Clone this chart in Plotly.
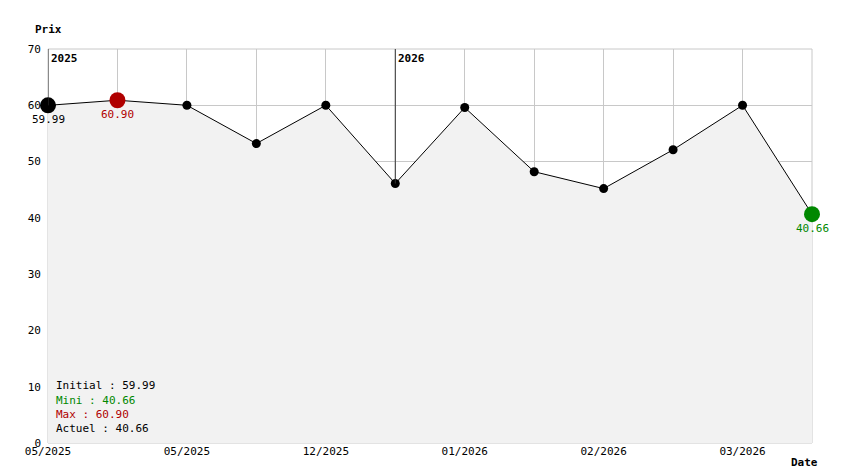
import plotly.graph_objects as go

prices = [59.99, 60.90, 60.0, 53.2, 60.0, 46.1, 59.6, 48.2, 45.2, 52.1, 60.0, 40.66]
tick_idx = [0, 2, 4, 6, 8, 10]
tick_labels = ["05/2025", "05/2025", "12/2025", "01/2026", "02/2026", "03/2026"]
years = [(0, "2025"), (5, "2026")]
x = list(range(len(prices)))
F = "DejaVu Sans Mono"

fig = go.Figure()
fig.add_trace(go.Scatter(x=x, y=prices, mode="lines+markers", fill="tozeroy",
    fillcolor="#f2f2f2", line=dict(color="#000", width=1), cliponaxis=False,
    marker=dict(size=9, color="#000"), hoverinfo="skip"))
imax = prices.index(max(prices)); imin = prices.index(min(prices))
for xi, col in [(0, "#000"), (imax, "#b00000"), (imin, "#008800")]:
    fig.add_trace(go.Scatter(x=[xi], y=[prices[xi]], mode="markers", cliponaxis=False,
                             marker=dict(size=16, color=col)))

for xi, lab in years:
    fig.add_shape(type="line", x0=xi, x1=xi, y0=70, y1=prices[xi], line=dict(color="#333", width=1))
    fig.add_annotation(x=xi, y=70, text="<b>" + lab + "</b>", showarrow=False, xanchor="left",
                       yanchor="top", xshift=1, yshift=-1, font=dict(family=F, size=11, color="#000"))
for xi, col in [(0, "#000"), (imax, "#b00000"), (imin, "#008800")]:
    fig.add_annotation(x=xi, y=prices[xi], text=f"{prices[xi]:.2f}", showarrow=False, yshift=-14,
                       font=dict(family=F, size=11, color=col))
leg = [("Initial : %.2f" % prices[0], "#000"), ("Mini : %.2f" % min(prices), "#008800"),
       ("Max : %.2f" % max(prices), "#b00000"), ("Actuel : %.2f" % prices[-1], "#000")]
for i, (t, c) in enumerate(leg):
    fig.add_annotation(xref="paper", yref="paper", x=0.008, y=0.145 - i * 0.036, text=t, showarrow=False,
                       xanchor="left", yanchor="middle", font=dict(family=F, size=11, color=c))
fig.add_annotation(xref="paper", yref="paper", x=0, y=1, yshift=28, text="<b>Prix</b>", showarrow=False,
                   xanchor="center", font=dict(family=F, size=11, color="#000"))
fig.add_annotation(xref="paper", yref="paper", x=1, y=0, yshift=-28, xshift=8, text="<b>Date</b>", showarrow=False,
                   xanchor="right", font=dict(family=F, size=11, color="#000"))

fig.update_layout(width=844, height=474, margin=dict(l=40, r=40, t=41, b=39, autoexpand=False),
    plot_bgcolor="white", paper_bgcolor="white", showlegend=False,
    font=dict(family=F, size=11, color="#000"))
fig.update_xaxes(range=[0, 11], tickvals=tick_idx, ticktext=tick_labels, showgrid=True,
    gridcolor="#c8c8c8", zeroline=False, showline=False, ticks="", automargin=False,
    minor=dict(dtick=1, tick0=0, showgrid=True, gridcolor="#c8c8c8"))
fig.update_yaxes(range=[0, 70], dtick=10, gridcolor="#c8c8c8", zeroline=False, ticks="",
                 automargin=False, ticklabelstandoff=6)
fig.add_shape(type="rect", xref="paper", yref="paper", x0=0, x1=1, y0=0, y1=1,
              line=dict(color="#c8c8c8", width=1), layer="below")
fig.write_html("out.html")
